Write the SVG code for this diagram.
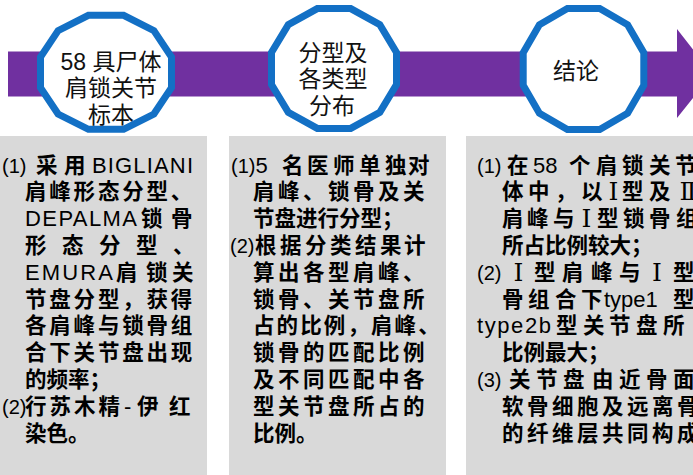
<svg xmlns="http://www.w3.org/2000/svg" width="693" height="475" viewBox="0 0 693 475">
<style>
.bg{fill:#ffffff}
.band{fill:#7030A0}
.ring{fill:#ffffff;stroke:#1370C5;stroke-width:7;stroke-linejoin:miter}
.c{font-family:"Liberation Sans","Noto Sans CJK SC",sans-serif;font-size:23px;fill:#111;text-anchor:middle}
.box{fill:#D9D9D9}
.t{font-family:"Liberation Sans","Noto Sans CJK SC",sans-serif;font-size:21.5px;font-weight:700;fill:#000}
.l{font-weight:400;font-size:22px}
.n{font-weight:400;font-size:20px}
.r{font-family:"DejaVu Serif","Liberation Serif",serif;font-size:25px;font-weight:400;fill:#000;text-anchor:middle}
</style>
<rect class="bg" x="0" y="0" width="693" height="475"/>
<g id="connectors">
<polygon class="band" points="8,51.5 677,51.5 677,29 712,74 677,118 677,96.5 8,96.5"/>
</g>
<g id="node-1">
<polygon class="ring" points="171.5,87.6 153.9,114.0 123.6,129.3 88.4,129.3 58.1,114.0 40.5,87.6 40.5,57.0 58.1,30.6 88.4,15.3 123.6,15.3 153.9,30.6 171.5,57.0"/>
<text class="c" x="111" y="70">58 具尸体</text>
<text class="c" x="111" y="96">肩锁关节</text>
<text class="c" x="111" y="123">标本</text>
</g>
<g id="node-2">
<polygon class="ring" points="396.5,84.6 379.8,112.3 350.7,128.4 317.3,128.4 288.3,112.3 271.5,84.6 271.5,52.5 288.3,24.7 317.3,8.6 350.7,8.6 379.8,24.7 396.5,52.5"/>
<text class="c" x="333" y="61">分型及</text>
<text class="c" x="333" y="87">各类型</text>
<text class="c" x="332" y="114">分布</text>
</g>
<g id="node-3">
<polygon class="ring" points="643.8,85.2 627.6,113.3 599.7,129.5 567.4,129.5 539.4,113.3 523.2,85.2 523.2,52.8 539.4,24.7 567.4,8.5 599.7,8.5 627.6,24.7 643.8,52.8"/>
<text class="c" x="576" y="79">结论</text>
</g>
<g id="box-1">
<rect class="box" x="0" y="136" width="207" height="339"/>
<text class="t" y="172.5"><tspan class="n" x="2">(1)</tspan><tspan x="36 64">采用</tspan><tspan class="l" x="92" textLength="101">BIGLIANI</tspan></text>
<text class="t" y="199.3" x="25 49.3 73.6 97.9 122.2 146.5 170.8">肩峰形态分型、</text>
<text class="t" y="226.1"><tspan class="l" x="25" textLength="112">DEPALMA</tspan><tspan x="141 171">锁骨</tspan></text>
<text class="t" y="252.9" x="25 62 99 136 173">形态分型、</text>
<text class="t" y="279.7"><tspan class="l" x="25" textLength="88">EMURA</tspan><tspan x="116 146 172">肩锁关</tspan></text>
<text class="t" y="306.5" x="25 49.3 73.6 97.9 122.2 146.5 170.8">节盘分型，获得</text>
<text class="t" y="333.3" x="25 49.3 73.6 97.9 122.2 146.5 170.8">各肩峰与锁骨组</text>
<text class="t" y="360.1" x="25 49.3 73.6 97.9 122.2 146.5 170.8">合下关节盘出现</text>
<text class="t" y="386.9" x="25">的频率；</text>
<text class="t" y="413.7"><tspan class="n" x="2">(2)</tspan><tspan x="25 49.5 74 98.5">行苏木精</tspan><tspan class="l" x="124">-</tspan><tspan x="137 169">伊红</tspan></text>
<text class="t" y="440.5" x="25">染色。</text>
</g>
<g id="box-2">
<rect class="box" x="229" y="136" width="217" height="339"/>
<text class="t" y="172.5"><tspan class="n" x="231">(1)</tspan><tspan class="l">5</tspan><tspan x="282 307 333 359 385 408">名医师单独对</tspan></text>
<text class="t" y="199.3" x="253 278 303 328 353 378 403">肩峰、锁骨及关</text>
<text class="t" y="226.1" x="253">节盘进行分型；</text>
<text class="t" y="252.9"><tspan class="n" x="230">(2)</tspan><tspan x="255 280 305 330 355 380 404">根据分类结果计</tspan></text>
<text class="t" y="279.7" x="253 278 303 328 353 378 403">算出各型肩峰、</text>
<text class="t" y="306.5" x="253 278 303 328 353 378 403">锁骨、关节盘所</text>
<text class="t" y="333.3" x="253 276.6 300.2 323.8 347.4 371 394.6 418.2">占的比例，肩峰、</text>
<text class="t" y="360.1" x="253 278 303 328 353 378 403">锁骨的匹配比例</text>
<text class="t" y="386.9" x="253 278 303 328 353 378 403">及不同匹配中各</text>
<text class="t" y="413.7" x="253 278 303 328 353 378 403">型关节盘所占的</text>
<text class="t" y="440.5" x="253">比例。</text>
</g>
<g id="box-3">
<rect class="box" x="466" y="136" width="227" height="339"/>
<text class="t" y="172.5"><tspan class="n" x="477">(1)</tspan><tspan x="507">在</tspan><tspan class="l" x="533">58</tspan><tspan x="569 596 622 649 675">个肩锁关节</tspan></text>
<text class="t" y="199.3"><tspan x="502 528 555 581">体中，以</tspan><tspan x="622 649">型及</tspan></text>
<text class="r" x="613.5" y="200">Ⅰ</text>
<text class="r" x="688" y="200">Ⅱ</text>
<text class="t" y="226.1"><tspan x="502 527 553">肩峰与</tspan><tspan x="597 623 649 676">型锁骨组</tspan></text>
<text class="r" x="586.5" y="227">Ⅰ</text>
<text class="t" y="252.9" x="502">所占比例较大；</text>
<text class="t" y="279.7"><tspan class="n" x="477">(2)</tspan><tspan x="534 562 591 619">型肩峰与</tspan><tspan x="673">型</tspan></text>
<text class="r" x="518.5" y="280.5">Ⅰ</text>
<text class="r" x="657" y="280.5">Ⅰ</text>
<text class="t" y="306.5"><tspan x="502 528 555 581">骨组合下</tspan><tspan class="l" x="604">type1</tspan><tspan x="673">型</tspan></text>
<text class="t" y="333.3"><tspan class="l" x="477" textLength="74">type2b</tspan><tspan x="556 583 609 636 663">型关节盘所</tspan></text>
<text class="t" y="360.1" x="502">比例最大；</text>
<text class="t" y="386.9"><tspan class="n" x="477">(3)</tspan><tspan x="509 536 563 592 619 646 673">关节盘由近骨面</tspan></text>
<text class="t" y="413.7" x="502 527 552 577 602 627 652 677">软骨细胞及远离骨</text>
<text class="t" y="440.5" x="502 527 552 577 602 627 652 677">的纤维层共同构成</text>
</g>
</svg>
